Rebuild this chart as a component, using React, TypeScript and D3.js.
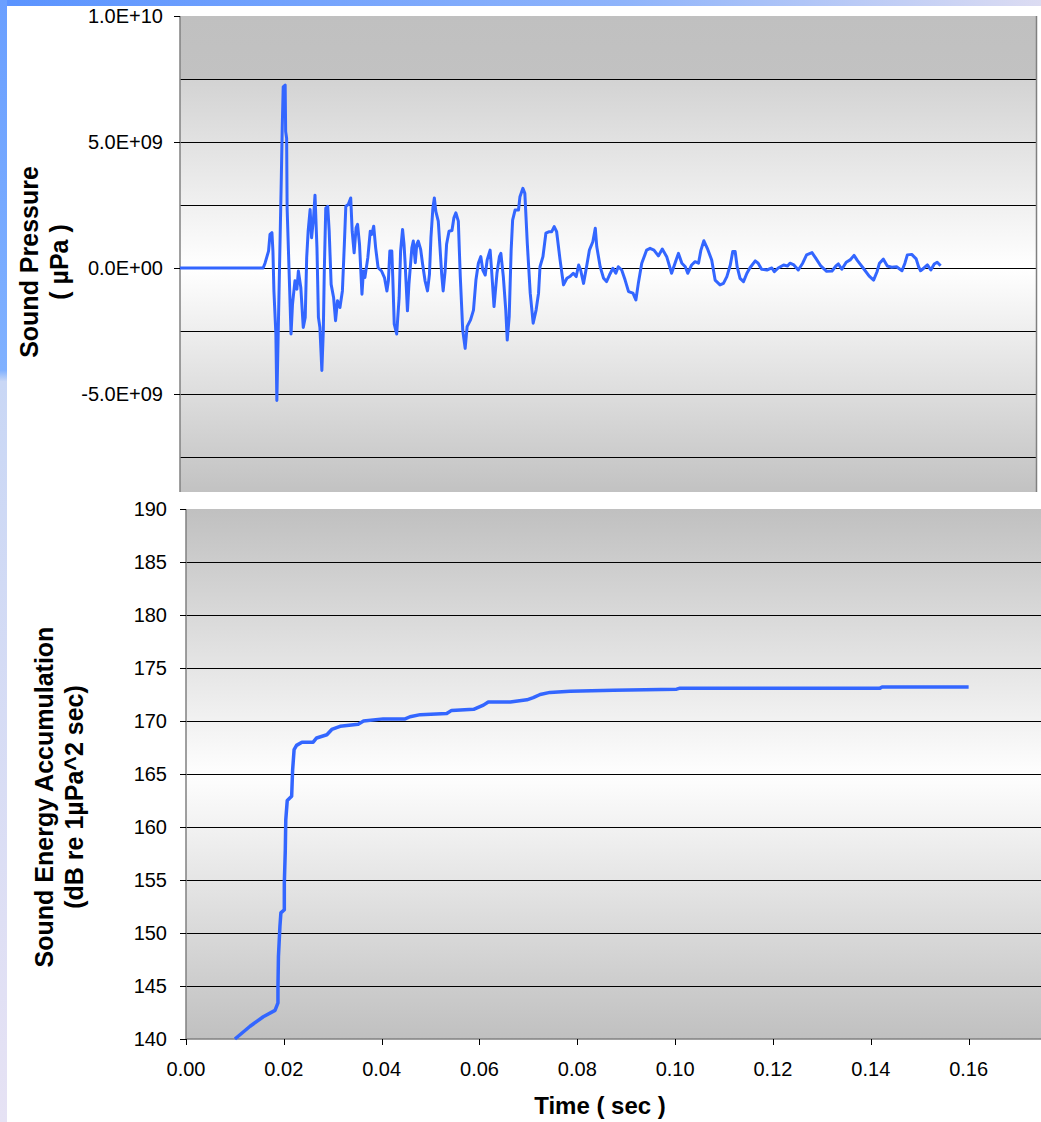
import * as d3 from "d3";

// time axis ticks (sec)
const timeTicks = [0, 0.02, 0.04, 0.06, 0.08, 0.1, 0.12, 0.14, 0.16];
// pressure axis: labelled ticks and grid lines (µPa)
const pressureTicks = [1e10, 5e9, 0, -5e9];
const pressureGrid = [7.5e9, 5e9, 2.5e9, 0, -2.5e9, -5e9, -7.5e9];
// energy axis ticks (dB)
const energyTicks = [140, 145, 150, 155, 160, 165, 170, 175, 180, 185, 190];

// [time (sec), sound pressure (x1E9 µPa)]
const pressure: [number, number][] = [
  [0, 0], [0.017, 0], [0.0174, 0.2], [0.0181, 0.67], [0.0184, 1.33], [0.0188, 1.4], [0.019, 0.67],
  [0.0192, -0.91], [0.0196, -2.62], [0.0198, -5.26], [0.0201, -2.36], [0.0204, 0.54], [0.0207, 3.44],
  [0.0209, 5.55], [0.0211, 7.19], [0.0215, 7.26], [0.0216, 5.42], [0.0218, 5.15], [0.0219, 2.38],
  [0.0223, -0.12], [0.0227, -2.62], [0.023, -1.44], [0.0235, -0.51], [0.0239, -0.84], [0.0242, -0.12],
  [0.0247, -0.78], [0.0252, -2.36], [0.0256, -1.96], [0.0259, 0.41], [0.0262, 1.46], [0.0266, 2.32],
  [0.0269, 1.2], [0.0273, 1.99], [0.0276, 2.89], [0.028, 0.8], [0.0283, -1.96], [0.0286, -2.36],
  [0.029, -4.07], [0.0293, -2.49], [0.0295, -0.12], [0.0298, 2.38], [0.0302, 2.45], [0.0305, 1.46],
  [0.0309, -0.65], [0.0314, -1.17], [0.0318, -2.09], [0.0322, -1.3], [0.0327, -1.57], [0.0332, -0.91],
  [0.0336, 0.94], [0.0339, 2.45], [0.0344, 2.52], [0.0349, 2.78], [0.0352, 1.46], [0.0356, 0.6],
  [0.036, 1.59], [0.0363, 1.73], [0.0367, 0.94], [0.0372, -1.04], [0.0375, -0.12], [0.0378, -0.38],
  [0.0384, 0.41], [0.0389, 1.46], [0.0392, 1.33], [0.0396, 1.66], [0.04, 0.8], [0.0405, 0.01],
  [0.0412, -0.12], [0.0418, -0.38], [0.0423, -0.91], [0.0426, -0.51], [0.0429, 0.67], [0.0433, 0.67],
  [0.0435, -0.38], [0.0438, -2.23], [0.0443, -2.62], [0.0448, -1.17], [0.0451, 0.67], [0.0455, 1.53],
  [0.0458, 0.94], [0.046, 0.28], [0.0465, -1.7], [0.0468, -0.65], [0.0474, 0.8], [0.0477, 1.07],
  [0.0481, 0.21], [0.0484, 0.94], [0.0487, 1.07], [0.0492, 0.74], [0.0496, 0.15], [0.0501, -0.51],
  [0.0506, -0.91], [0.051, -0.25], [0.0513, 1.2], [0.0517, 2.38], [0.052, 2.78], [0.0523, 2.25],
  [0.0528, 1.86], [0.0532, 0.67], [0.0535, -0.25], [0.0538, -0.91], [0.0542, -0.12], [0.0545, 0.94],
  [0.055, 1.46], [0.0556, 1.49], [0.056, 1.99], [0.0564, 2.19], [0.0569, 1.86], [0.0573, -0.34],
  [0.0578, -2.46], [0.0583, -3.19], [0.0587, -2.33], [0.0594, -2.06], [0.06, -1.67], [0.0605, -0.48],
  [0.061, 0.19], [0.0615, 0.45], [0.0619, -0.08], [0.0624, -0.28], [0.0628, 0.32], [0.0634, 0.71],
  [0.0637, -0.08], [0.0642, -1.53], [0.0648, -0.21], [0.0653, 0.45], [0.0656, 0.58], [0.0661, -0.34],
  [0.0666, -1.67], [0.0669, -2.86], [0.0673, -1.93], [0.0677, 0.71], [0.068, 1.9], [0.0685, 2.3],
  [0.0692, 2.3], [0.0695, 2.83], [0.0701, 3.16], [0.0705, 2.96], [0.071, 0.98], [0.0716, -1.0],
  [0.0722, -2.19], [0.0728, -1.67], [0.0733, -1.0], [0.0736, 0.05], [0.0742, 0.45], [0.0748, 1.38],
  [0.0755, 1.44], [0.076, 1.44], [0.0765, 1.64], [0.077, 1.44], [0.0777, 0.32], [0.0784, -0.67],
  [0.0791, -0.41], [0.0797, -0.34], [0.0804, -0.21], [0.081, -0.34], [0.0815, 0.12], [0.0819, -0.08],
  [0.0825, -0.61], [0.083, -0.08], [0.0837, 0.71], [0.0844, 1.04], [0.0849, 1.58], [0.0852, 0.85],
  [0.0859, 0.05], [0.0866, -0.41], [0.0872, -0.54], [0.0878, -0.28], [0.0885, -0.01], [0.0891, -0.21],
  [0.0896, 0.05], [0.0903, -0.08], [0.091, -0.48], [0.0917, -0.94], [0.0926, -1.0], [0.0932, -1.27],
  [0.0937, -0.61], [0.0944, 0.19], [0.0954, 0.71], [0.0961, 0.78], [0.0969, 0.71], [0.0978, 0.48],
  [0.0986, 0.75], [0.0995, 0.45], [0.1005, -0.21], [0.1012, 0.19], [0.1019, 0.58], [0.1026, 0.19],
  [0.1033, 0.05], [0.1038, -0.21], [0.1046, 0.12], [0.1053, 0.25], [0.106, 0.19], [0.1065, 0.71],
  [0.1071, 1.08], [0.1078, 0.78], [0.1087, 0.32], [0.1094, -0.48], [0.1104, -0.67], [0.1111, -0.61],
  [0.1118, -0.34], [0.1125, 0.12], [0.113, 0.65], [0.1135, 0.65], [0.1139, 0.05], [0.1145, -0.41],
  [0.1152, -0.54], [0.1159, -0.21], [0.1165, 0.0], [0.1176, 0.28], [0.1182, 0.19], [0.1189, -0.05],
  [0.12, -0.08], [0.121, 0.0], [0.1215, -0.15], [0.1223, 0.0], [0.1234, 0.12], [0.1242, 0.08],
  [0.1247, 0.19], [0.1255, 0.12], [0.1264, -0.08], [0.1273, 0.19], [0.1281, 0.52], [0.1292, 0.61],
  [0.13, 0.38], [0.131, 0.08], [0.1322, -0.13], [0.1333, -0.12], [0.1341, 0.08], [0.1346, 0.16],
  [0.1353, -0.05], [0.1362, 0.23], [0.137, 0.32], [0.1378, 0.5], [0.1385, 0.29], [0.1397, -0.01],
  [0.1409, -0.32], [0.1418, -0.48], [0.1425, -0.15], [0.143, 0.19], [0.1438, 0.35], [0.1446, 0.08],
  [0.1455, 0.03], [0.1465, 0.05], [0.1476, -0.11], [0.1482, 0.19], [0.1487, 0.52], [0.1496, 0.54],
  [0.1505, 0.36], [0.151, 0.05], [0.1514, -0.11], [0.1521, 0.0], [0.1528, 0.12], [0.1535, -0.08],
  [0.1542, 0.16], [0.1548, 0.23], [0.1555, 0.09],
];

// [time (sec), accumulated energy (dB re 1µPa^2 sec)]
const energy: [number, number][] = [
  [0.01, 140.0], [0.0131, 141.2], [0.0158, 142.1], [0.0182, 142.7], [0.0188, 143.4], [0.0188, 144.9],
  [0.0189, 147.8], [0.0192, 150.6], [0.0194, 151.9], [0.0201, 152.2], [0.0201, 154.7], [0.0203, 157.8],
  [0.0204, 160.7], [0.0207, 162.5], [0.0216, 162.9], [0.0218, 165.4], [0.0221, 167.3], [0.0226, 167.7],
  [0.0237, 168.0], [0.026, 168.0], [0.0267, 168.4], [0.0288, 168.7], [0.0298, 169.2], [0.0315, 169.5],
  [0.0352, 169.7], [0.0363, 170.0], [0.0403, 170.2], [0.0448, 170.2], [0.0458, 170.4], [0.0479, 170.6],
  [0.0533, 170.7], [0.0543, 171.0], [0.0588, 171.1], [0.0608, 171.5], [0.0618, 171.8], [0.0663, 171.8],
  [0.0697, 172.0], [0.071, 172.2], [0.0724, 172.5], [0.0744, 172.7], [0.0785, 172.8], [0.0874, 172.9],
  [0.1003, 173.0], [0.101, 173.1], [0.1419, 173.1], [0.1423, 173.2], [0.16, 173.2],
];

const FONT = "'Liberation Sans', Arial, sans-serif";
const LINE = "#3366FF";

const fmtExp = (v: number) => {
  const [m, e] = v.toExponential(1).split("e");
  const n = parseInt(e, 10);
  return `${m}E${n < 0 ? "-" : "+"}${String(Math.abs(n)).padStart(2, "0")}`;
};

const App = () => {
  // top chart (sound pressure)
  const top = { left: 180, right: 1036, top: 16, bottom: 492 };
  const xTop = d3.scaleLinear().domain([0, 0.175]).range([top.left, top.right]);
  const yTop = d3.scaleLinear().domain([-8.89e9, 1e10]).range([top.bottom, top.top]);
  const pressureLine = d3
    .line<[number, number]>()
    .x((d) => xTop(d[0]))
    .y((d) => yTop(d[1] * 1e9))(pressure);

  // bottom chart (energy)
  const bot = { left: 186, right: 1042, top: 509, bottom: 1039 };
  const xBot = d3.scaleLinear().domain([0, 0.175]).range([bot.left, bot.right]);
  const yBot = d3.scaleLinear().domain([140, 190]).range([bot.bottom, bot.top]);
  const energyLine = d3
    .line<[number, number]>()
    .x((d) => xBot(d[0]))
    .y((d) => yBot(d[1]))(energy);

  const snap = (v: number) => Math.round(v) + 0.5;

  return (
    <svg
      width={1041}
      height={1122}
      style={{ position: "absolute", left: 0, top: 0, background: "#fff" }}
    >
      <defs>
        <linearGradient id="gTop" x1="0" y1="0" x2="0" y2="1">
          <stop offset="0" stopColor="#c0c0c0" />
          <stop offset="0.134" stopColor="#c2c2c2" />
          <stop offset="0.135" stopColor="#d3d3d3" />
          <stop offset="0.53" stopColor="#ffffff" />
          <stop offset="0.8" stopColor="#dcdcdc" />
          <stop offset="1" stopColor="#c2c2c2" />
        </linearGradient>
        <linearGradient id="gBot" x1="0" y1="0" x2="0" y2="1">
          <stop offset="0" stopColor="#c0c0c0" />
          <stop offset="0.5" stopColor="#fefefe" />
          <stop offset="1" stopColor="#c0c0c0" />
        </linearGradient>
        <linearGradient id="gBarTop" x1="0" y1="0" x2="1" y2="0">
          <stop offset="0" stopColor="#5a93ff" />
          <stop offset="0.6" stopColor="#8fb4fb" />
          <stop offset="1" stopColor="#dcdcf2" />
        </linearGradient>
        <linearGradient id="gBarLeft" x1="0" y1="0" x2="0" y2="1">
          <stop offset="0" stopColor="#6a9fff" />
          <stop offset="0.33" stopColor="#80b1ff" />
          <stop offset="0.34" stopColor="#c9d7f5" />
          <stop offset="1" stopColor="#e6e2f4" />
        </linearGradient>
      </defs>

      {/* slide frame */}
      <rect x={0} y={0} width={1041} height={6} fill="url(#gBarTop)" />
      <rect x={0} y={0} width={7} height={1122} fill="url(#gBarLeft)" />

      {/* ---------- top chart ---------- */}
      <rect
        x={top.left}
        y={top.top}
        width={top.right - top.left}
        height={top.bottom - top.top}
        fill="url(#gTop)"
      />
      {pressureGrid.map((v) => (
        <line
          key={v}
          x1={top.left}
          x2={top.right}
          y1={snap(yTop(v))}
          y2={snap(yTop(v))}
          stroke="#000"
          strokeWidth={1}
        />
      ))}
      <line x1={snap(top.right)} x2={snap(top.right)} y1={top.top} y2={top.bottom} stroke="#808080" strokeWidth={1.5} />
      <line x1={top.left} x2={top.left} y1={top.top} y2={top.bottom} stroke="#808080" strokeWidth={1.5} />
      {pressureTicks.map((v) => (
        <g key={v}>
          <line x1={top.left - 6} x2={top.left} y1={snap(yTop(v))} y2={snap(yTop(v))} stroke="#000" />
          <text
            x={163}
            y={yTop(v) + 7}
            textAnchor="end"
            fontFamily={FONT}
            fontSize={20}
            fill="#000"
          >
            {fmtExp(v)}
          </text>
        </g>
      ))}
      <path d={pressureLine ?? ""} fill="none" stroke={LINE} strokeWidth={3} strokeLinejoin="round" />
      <text
        transform="translate(38,262) rotate(-90)"
        textAnchor="middle"
        fontFamily={FONT}
        fontSize={25}
        fontWeight="bold"
      >
        Sound Pressure
      </text>
      <text
        transform="translate(68,262) rotate(-90)"
        textAnchor="middle"
        fontFamily={FONT}
        fontSize={25}
        fontWeight="bold"
      >
        ( µPa )
      </text>

      {/* ---------- bottom chart ---------- */}
      <rect
        x={bot.left}
        y={bot.top}
        width={bot.right - bot.left}
        height={bot.bottom - bot.top}
        fill="url(#gBot)"
      />
      {energyTicks.slice(1, -1).map((v) => (
        <line
          key={v}
          x1={bot.left}
          x2={bot.right}
          y1={snap(yBot(v))}
          y2={snap(yBot(v))}
          stroke="#000"
          strokeWidth={1}
        />
      ))}
      <line x1={bot.left} x2={bot.left} y1={bot.top} y2={bot.bottom} stroke="#808080" strokeWidth={1.5} />
      <line x1={bot.left} x2={bot.right} y1={bot.bottom} y2={bot.bottom} stroke="#808080" strokeWidth={1.5} />
      {energyTicks.map((v) => (
        <g key={v}>
          <line x1={bot.left - 6} x2={bot.left} y1={snap(yBot(v))} y2={snap(yBot(v))} stroke="#000" />
          <text x={167} y={yBot(v) + 7} textAnchor="end" fontFamily={FONT} fontSize={20} fill="#000">
            {v}
          </text>
        </g>
      ))}
      {timeTicks.map((t) => (
        <g key={t}>
          <line x1={snap(xBot(t))} x2={snap(xBot(t))} y1={bot.bottom} y2={bot.bottom + 6} stroke="#000" />
          <text x={xBot(t)} y={1076} textAnchor="middle" fontFamily={FONT} fontSize={20} fill="#000">
            {t.toFixed(2)}
          </text>
        </g>
      ))}
      <path d={energyLine ?? ""} fill="none" stroke={LINE} strokeWidth={3.5} strokeLinejoin="round" />
      <text
        transform="translate(53,797) rotate(-90)"
        textAnchor="middle"
        fontFamily={FONT}
        fontSize={25}
        fontWeight="bold"
      >
        Sound Energy Accumulation
      </text>
      <text
        transform="translate(83,797) rotate(-90)"
        textAnchor="middle"
        fontFamily={FONT}
        fontSize={25}
        fontWeight="bold"
      >
        (dB re 1µPa^2 sec)
      </text>
      <text x={600} y={1114} textAnchor="middle" fontFamily={FONT} fontSize={24} fontWeight="bold">
        Time ( sec )
      </text>
    </svg>
  );
};

export default App;
